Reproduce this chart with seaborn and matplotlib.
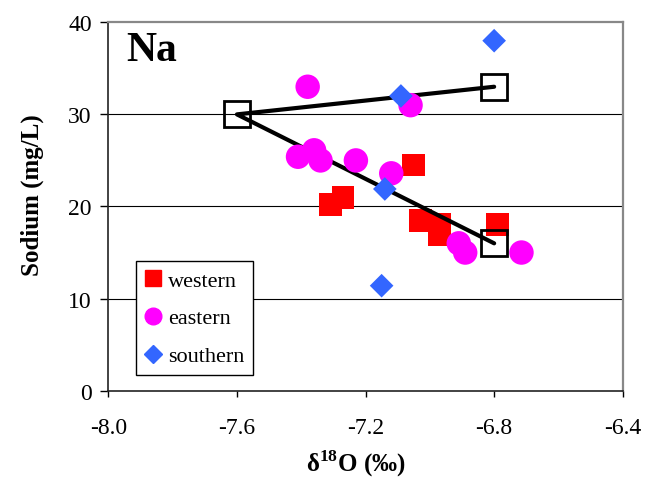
import matplotlib
matplotlib.use("Agg")
import matplotlib.pyplot as plt
from matplotlib.lines import Line2D
import seaborn as sns
import pandas as pd

# Sample data: delta-18O (per mil) and sodium (mg/L) by area
western_d18o = [-7.05, -7.31, -7.27, -7.03, -6.97, -6.97, -6.79]
western_na = [24.5, 20.2, 21.0, 18.5, 18.0, 17.0, 18.0]

eastern_d18o = [-7.38, -7.06, -7.41, -7.36, -7.34, -7.23, -7.12, -6.91, -6.89, -6.715]
eastern_na = [33.0, 31.0, 25.4, 26.1, 25.0, 25.0, 23.6, 16.0, 15.0, 15.0]

southern_d18o = [-7.09, -7.14, -7.15, -6.80]
southern_na = [32.0, 21.9, 11.4, 38.0]

# End-members of the mixing lines
mix_d18o = [-6.8, -7.6, -6.8]
mix_na = [33.0, 30.0, 16.0]

x_ticks = [-8.0, -7.6, -7.2, -6.8, -6.4]
y_ticks = [0, 10, 20, 30, 40]

sns.set_theme(style="white")
plt.rcParams["font.family"] = ["Liberation Serif", "DejaVu Serif"]
plt.rcParams["mathtext.fontset"] = "custom"
plt.rcParams["mathtext.rm"] = "Liberation Serif"
plt.rcParams["mathtext.bf"] = "Liberation Serif:bold"
for key in ("text.color", "axes.labelcolor", "xtick.color", "ytick.color"):
    plt.rcParams[key] = "black"

fig = plt.figure(figsize=(6.46, 4.85), dpi=100)
ax = fig.add_axes([0.1677, 0.1924, 0.7963, 0.7596])

west = pd.DataFrame({"d18o": western_d18o, "na": western_na})
east = pd.DataFrame({"d18o": eastern_d18o, "na": eastern_na})
south = pd.DataFrame({"d18o": southern_d18o, "na": southern_na})
mix = pd.DataFrame({"d18o": mix_d18o, "na": mix_na})

for yv in y_ticks[1:-1]:
    ax.axhline(yv, color="black", lw=0.8, zorder=1)

sns.scatterplot(data=west, x="d18o", y="na", marker="s", s=270, color="#FF0000",
                edgecolor="none", ax=ax, zorder=2, legend=False)
sns.lineplot(data=mix, x="d18o", y="na", sort=False, estimator=None, color="black",
             lw=3.0, marker="s", markersize=19, markerfacecolor="none",
             markeredgecolor="black", markeredgewidth=2.0, ax=ax, zorder=3)
sns.scatterplot(data=east, x="d18o", y="na", marker="o", s=310, color="#FF00FF",
                edgecolor="none", ax=ax, zorder=4, legend=False)
sns.scatterplot(data=south, x="d18o", y="na", marker="D", s=145, color="#3366FF",
                edgecolor="none", ax=ax, zorder=5, legend=False)

ax.set_xlim(-8.0, -6.4)
ax.set_ylim(0, 40)
ax.set_xticks(x_ticks)
ax.set_xticklabels([f"{v:.1f}" for v in x_ticks])
ax.set_yticks(y_ticks)
ax.tick_params(axis="both", direction="out", width=1, color="black",
               labelsize=17, bottom=True, left=True)
ax.tick_params(axis="x", length=4.5, pad=14.5)
ax.tick_params(axis="y", length=6, pad=6)

for side in ("top", "right"):
    ax.spines[side].set_color("#888888")
    ax.spines[side].set_linewidth(1.6)
for side in ("left", "bottom"):
    ax.spines[side].set_color("#222222")
    ax.spines[side].set_linewidth(1.2)

ax.set_xlabel(r"δ$^{\mathbf{18}}$O (‰)", fontsize=18, fontweight="bold")
ax.xaxis.set_label_coords(0.481, -0.153)
ax.set_ylabel("Sodium (mg/L)", fontsize=18, fontweight="bold")
ax.yaxis.set_label_coords(-0.125, 0.533)

ax.text(0.034, 0.975, "Na", transform=ax.transAxes, fontsize=30, fontweight="bold",
        va="top", ha="left")

handles = [
    Line2D([], [], ls="none", marker="s", markersize=12, color="#FF0000", label="western"),
    Line2D([], [], ls="none", marker="o", markersize=12, color="#FF00FF", label="eastern"),
    Line2D([], [], ls="none", marker="D", markersize=9, color="#3366FF", label="southern"),
]
leg = ax.legend(handles=handles, loc="lower left", bbox_to_anchor=(0.053, 0.042),
                fontsize=16, frameon=True, fancybox=False, edgecolor="black",
                framealpha=1, handlelength=0.8, handletextpad=0.25, borderpad=0.4,
                labelspacing=0.78, borderaxespad=0)
leg.get_frame().set_linewidth(1.0)

fig.savefig("out.png", dpi=100)
